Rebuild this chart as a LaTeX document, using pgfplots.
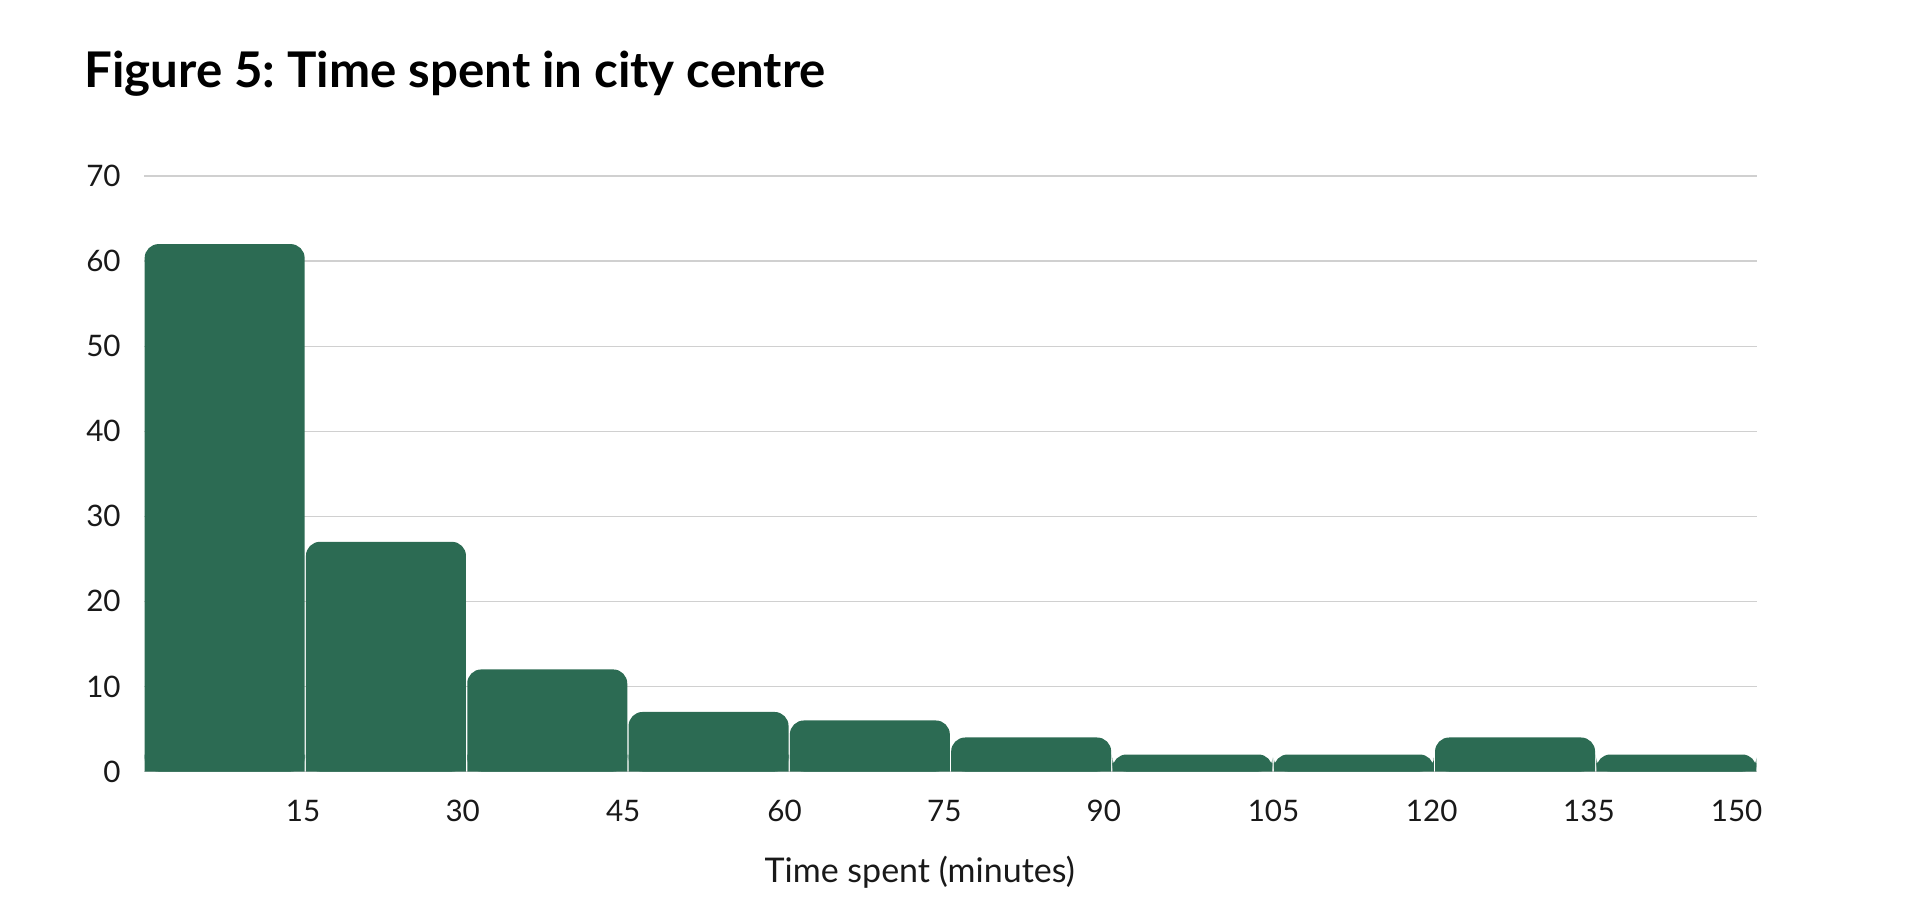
\documentclass[border=0pt]{standalone}
\usepackage{fontspec}
\setmainfont{Lato}
\usepackage{pgfplots}
\pgfplotsset{compat=1.18}
\definecolor{barc}{HTML}{2C6B53}
\definecolor{gridc}{HTML}{D0D0D0}
\frenchspacing
\begin{document}
\begin{tikzpicture}
\path[use as bounding box] (0,0) rectangle (960pt,-456pt);
\node[anchor=base west, inner sep=0pt, font=\fontsize{24.6}{29}\selectfont\bfseries] at (42pt,-43.65pt) {Figure 5: Time spent in city centre};
\begin{axis}[
  at={(72pt,-385.75pt)}, anchor=south west,
  scale only axis, width=806.5pt, height=297.75pt,
  xmin=0, xmax=150, ymin=0, ymax=70,
  ytick={0,10,20,30,40,50,60,70},
  yticklabels={0,10,20,30,40,50,60,70},
  xtick={14.79,29.64,44.56,59.57,74.43,89.26,105.04,119.75,134.37,148.10},
  xticklabels={15,30,45,60,75,90,105,120,135,150},
  x tick label as interval=false,
  ymajorgrids, grid style={gridc, line width=0.65pt},
  axis line style={draw=none},
  major tick length=0pt, tick style={draw=none},
  ticklabel style={font=\fontsize{14.8}{17}\selectfont, text=black!90},
  yticklabel style={anchor=east, inner sep=0pt, xshift=-11.5pt},
  xticklabel style={anchor=north, inner sep=0pt, yshift=-14.25pt},
]
\addplot[ybar interval, bar interval width=0.992, bar interval shift=0.5, fill=barc, draw=none, rounded corners=7pt] coordinates {
  (0,62) (15,27) (30,12) (45,7) (60,6) (75,4) (90,2) (105,2) (120,4) (135,2) (150,2)};
\addplot[ybar interval, bar interval width=0.992, bar interval shift=0.5, fill=barc, draw=none] coordinates {
  (0,2) (15,2) (30,2) (45,2) (60,2) (75,2) (90,1) (105,1) (120,2) (135,1) (150,1)};
\end{axis}
\node[anchor=base, inner sep=0pt, font=\fontsize{17}{20}\selectfont, text=black!90] at (459.85pt,-441.35pt) {Time spent (minutes)};
\end{tikzpicture}
\end{document}
